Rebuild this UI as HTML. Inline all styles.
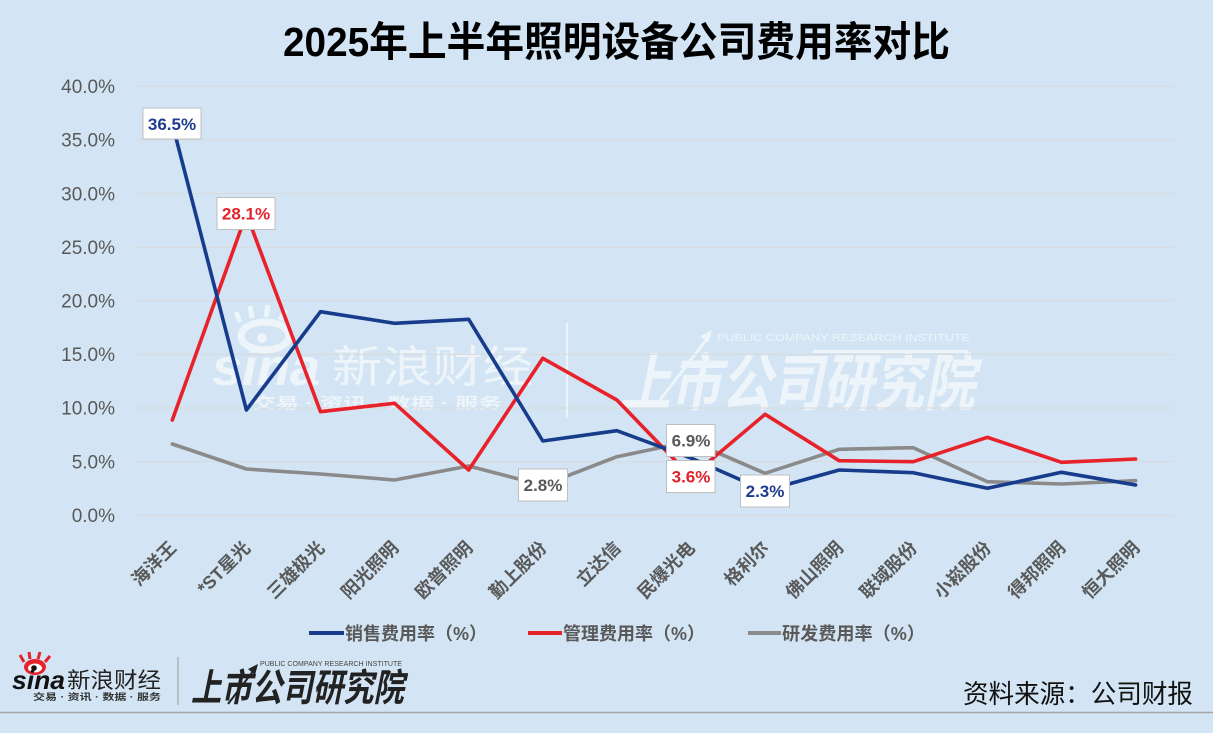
<!DOCTYPE html>
<html><head><meta charset="utf-8"><style>
html,body{margin:0;padding:0;background:#d3e5f4;}
svg{display:block;}
text{font-family:"Liberation Sans","Noto Sans CJK SC",sans-serif;}
</style></head><body>
<svg width="1213" height="733" viewBox="0 0 1213 733" xmlns="http://www.w3.org/2000/svg">
<rect x="0" y="0" width="1213" height="733" fill="#d3e5f4"/>

<!-- title -->
<text x="283" y="56" font-size="41" font-weight="bold" fill="#000" textLength="667" lengthAdjust="spacingAndGlyphs">2025年上半年照明设备公司费用率对比</text>

<!-- watermark -->
<g fill="#ffffff" opacity="0.6">
  <ellipse cx="265" cy="336" rx="24" ry="14" fill="none" stroke="#fff" stroke-width="7"/>
  <circle cx="262" cy="338" r="5"/>
  <path d="M240 322 L236 312 M252 318 L250 306 M266 317 L268 305 M280 320 L286 310" stroke="#fff" stroke-width="5"/>
  <text x="212" y="385" font-size="52" font-weight="bold" font-style="italic" textLength="108" lengthAdjust="spacingAndGlyphs">sina</text>
  <text x="332" y="382" font-size="44" textLength="201" lengthAdjust="spacingAndGlyphs">新浪财经</text>
  <text x="252" y="408" font-size="15" font-weight="bold" textLength="250" lengthAdjust="spacingAndGlyphs">交易 · 资讯 · 数据 · 服务</text>
  <rect x="566" y="323" width="2" height="94"/>
  <text x="620" y="405" font-size="62" font-weight="bold" font-style="italic" textLength="355" lengthAdjust="spacingAndGlyphs">上市公司研究院</text>
  <text x="717" y="341" font-size="10" textLength="253" lengthAdjust="spacingAndGlyphs">PUBLIC COMPANY RESEARCH INSTITUTE</text>
  <rect x="813" y="350" width="155" height="3"/>
  <path d="M660 400 L710 335" stroke="#fff" stroke-width="3"/>
  <path d="M712 330 L700 336 L708 343 Z"/>
</g>

<!-- gridlines -->
<g stroke="#d9d9d9" stroke-width="1">
  <line x1="135.5" y1="86.3" x2="1173" y2="86.3"/>
  <line x1="135.5" y1="139.9" x2="1173" y2="139.9"/>
  <line x1="135.5" y1="193.6" x2="1173" y2="193.6"/>
  <line x1="135.5" y1="247.2" x2="1173" y2="247.2"/>
  <line x1="135.5" y1="300.8" x2="1173" y2="300.8"/>
  <line x1="135.5" y1="354.4" x2="1173" y2="354.4"/>
  <line x1="135.5" y1="408.0" x2="1173" y2="408.0"/>
  <line x1="135.5" y1="461.7" x2="1173" y2="461.7"/>
  <line x1="135.5" y1="515.3" x2="1173" y2="515.3"/>
</g>

<!-- y tick labels -->
<g font-size="19" fill="#595959" text-anchor="end">
  <text x="115" y="93">40.0%</text>
  <text x="115" y="146.6">35.0%</text>
  <text x="115" y="200.3">30.0%</text>
  <text x="115" y="253.9">25.0%</text>
  <text x="115" y="307.5">20.0%</text>
  <text x="115" y="361.1">15.0%</text>
  <text x="115" y="414.7">10.0%</text>
  <text x="115" y="468.4">5.0%</text>
  <text x="115" y="522">0.0%</text>
</g>

<!-- x labels -->
<g font-size="18" font-weight="bold" fill="#595959" text-anchor="end">
  <text transform="translate(177.3,549) rotate(-45)">海洋王</text>
  <text transform="translate(251.4,549) rotate(-45)">*ST星光</text>
  <text transform="translate(325.5,549) rotate(-45)">三雄极光</text>
  <text transform="translate(399.6,549) rotate(-45)">阳光照明</text>
  <text transform="translate(473.7,549) rotate(-45)">欧普照明</text>
  <text transform="translate(547.8,549) rotate(-45)">勤上股份</text>
  <text transform="translate(621.9,549) rotate(-45)">立达信</text>
  <text transform="translate(696.0,549) rotate(-45)">民爆光电</text>
  <text transform="translate(770.1,549) rotate(-45)">格利尔</text>
  <text transform="translate(844.2,549) rotate(-45)">佛山照明</text>
  <text transform="translate(918.3,549) rotate(-45)">联域股份</text>
  <text transform="translate(992.4,549) rotate(-45)">小崧股份</text>
  <text transform="translate(1066.5,549) rotate(-45)">得邦照明</text>
  <text transform="translate(1140.6,549) rotate(-45)">恒大照明</text>
</g>

<!-- series -->
<g fill="none" stroke-width="3.6" stroke-linejoin="round" stroke-linecap="round">
  <polyline stroke="#8a8a8a" points="172.3,444 246.4,469 320.5,474 394.6,480 468.7,466 542.8,485.3 616.9,456.7 691,441.3 765.1,473.3 839.2,449.3 913.3,447.7 987.4,481.7 1061.5,484 1135.6,480.7"/>
  <polyline stroke="#e8222b" points="172.3,420 246.4,213.8 320.5,411.7 394.6,403.3 468.7,470 542.8,358.3 616.9,400 691,476.7 765.1,414.3 839.2,460.7 913.3,461.7 987.4,437.3 1061.5,462.3 1135.6,459"/>
  <polyline stroke="#173c8c" points="172.3,123.7 246.4,410 320.5,311.7 394.6,323.3 468.7,319.3 542.8,441 616.9,430.7 691,458 765.1,490.6 839.2,470 913.3,472.7 987.4,488.3 1061.5,472.3 1135.6,485"/>
</g>

<!-- data labels -->
<g stroke="#bfbfbf" stroke-width="1" fill="#ffffff">
  <rect x="143" y="108" width="58" height="31"/>
  <rect x="217" y="197.5" width="58" height="32"/>
  <rect x="518.5" y="469" width="49" height="32"/>
  <rect x="666.5" y="424.5" width="48.5" height="32"/>
  <rect x="666.5" y="460.5" width="48.5" height="32"/>
  <rect x="740.5" y="475" width="49" height="32"/>
</g>
<g font-size="17" font-weight="bold" text-anchor="middle">
  <text x="172" y="130" fill="#1f3d8c">36.5%</text>
  <text x="246" y="219.5" fill="#e3212b">28.1%</text>
  <text x="543" y="491" fill="#595959">2.8%</text>
  <text x="691" y="446.5" fill="#595959">6.9%</text>
  <text x="691" y="482.5" fill="#e3212b">3.6%</text>
  <text x="765" y="497" fill="#1f3d8c">2.3%</text>
</g>

<!-- legend -->
<g stroke-width="4">
  <line x1="309" y1="633" x2="344" y2="633" stroke="#173c8c"/>
  <line x1="528" y1="633" x2="562" y2="633" stroke="#e8222b"/>
  <line x1="748" y1="633" x2="781" y2="633" stroke="#8a8a8a"/>
</g>
<g font-size="18" font-weight="bold" fill="#595959">
  <text x="345" y="640" textLength="142" lengthAdjust="spacingAndGlyphs">销售费用率（%）</text>
  <text x="563" y="640" textLength="142" lengthAdjust="spacingAndGlyphs">管理费用率（%）</text>
  <text x="782" y="640" textLength="143" lengthAdjust="spacingAndGlyphs">研发费用率（%）</text>
</g>

<!-- bottom-left logos -->
<g>
  <path d="M24 662 L20 655 M30 659 L29 652 M38 659 L40 652 M45 662 L50 656" stroke="#e8222b" stroke-width="3"/>
  <ellipse cx="35" cy="667" rx="11" ry="8" fill="#e8222b"/>
  <ellipse cx="35" cy="668" rx="7" ry="4.5" fill="#fff"/>
  <circle cx="34" cy="668" r="2.8" fill="#111"/>
  <text x="12" y="689" font-size="26" font-weight="bold" font-style="italic" fill="#111" textLength="53" lengthAdjust="spacingAndGlyphs">sina</text>
  <text x="67" y="688" font-size="22" fill="#222" textLength="94" lengthAdjust="spacingAndGlyphs">新浪财经</text>
  <text x="33" y="700" font-size="9" font-weight="bold" fill="#333" textLength="128" lengthAdjust="spacingAndGlyphs">交易 · 资讯 · 数据 · 服务</text>
  <line x1="178" y1="657" x2="178" y2="705" stroke="#9a9a9a" stroke-width="1"/>
  <text x="191" y="701" font-size="38" font-weight="bold" font-style="italic" fill="#222" textLength="213" lengthAdjust="spacingAndGlyphs">上市公司研究院</text>
  <text x="260" y="666" font-size="7" fill="#444" textLength="142" lengthAdjust="spacingAndGlyphs">PUBLIC COMPANY RESEARCH INSTITUTE</text>
  <path d="M228 704 L254 670" stroke="#222" stroke-width="2"/>
  <path d="M258 664 L248 669 L255 675 Z" fill="#222"/>
</g>

<!-- source -->
<text x="963" y="703" font-size="26" fill="#111" textLength="230" lengthAdjust="spacingAndGlyphs">资料来源：公司财报</text>

<!-- footer line -->
<line x1="0" y1="712.5" x2="1213" y2="712.5" stroke="#a6a6a6" stroke-width="1.5"/>
</svg>
</body></html>
